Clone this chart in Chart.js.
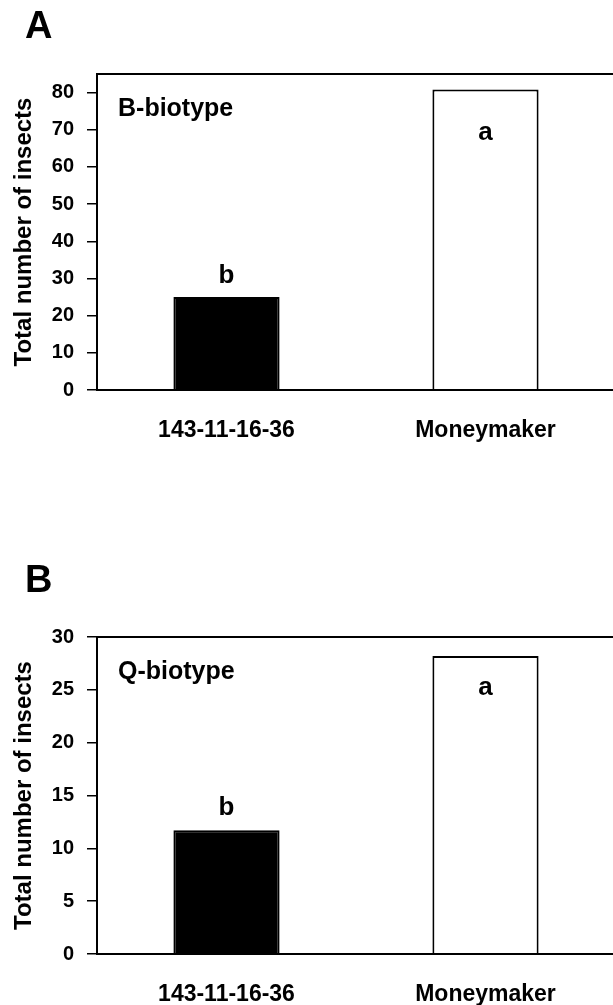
<!DOCTYPE html>
<html>
<head>
<meta charset="utf-8">
<script src="https://cdn.jsdelivr.net/npm/chart.js@4.4.1/dist/chart.umd.min.js"></script>
<style>
  html, body { margin: 0; padding: 0; background: #fff; overflow: hidden; width: 613px; height: 1005px; }
  canvas { position: absolute; left: 0; }
  #c1 { top: 0; }
  #c2 { top: 560px; }
</style>
</head>
<body>
<canvas id="c1" width="620" height="470"></canvas>
<canvas id="c2" width="620" height="460"></canvas>
<script>
// ---- data ----
const categories = ['143-11-16-36', 'Moneymaker'];
const bValues = [25, 80.8];
const qValues = [11.7, 28.2];
const sigLetters = ['b', 'a'];
const yTicksB = [0, 10, 20, 30, 40, 50, 60, 70, 80];
const yTicksQ = [0, 5, 10, 15, 20, 25, 30];
const panelLabels = ['A', 'B'];
const biotypeLabels = ['B-biotype', 'Q-biotype'];
const yTitle = 'Total number of insects';

const FONT = "'Liberation Sans', Arial, sans-serif";

const decorPlugin = {
  id: 'decor',
  afterDatasetsDraw(chart, args, opts) {
    const ctx = chart.ctx;
    const ca = chart.chartArea;
    ctx.save();
    // plot frame
    ctx.strokeStyle = '#000';
    ctx.lineWidth = 2;
    ctx.strokeRect(ca.left, ca.top, ca.right - ca.left, ca.bottom - ca.top);
    // biotype label
    ctx.fillStyle = '#000';
    ctx.font = 'bold 25px ' + FONT;
    ctx.textAlign = 'left';
    ctx.textBaseline = 'alphabetic';
    ctx.fillText(opts.biotype, ca.left + 21, ca.top + 42);
    // panel letter
    ctx.font = 'bold 38px ' + FONT;
    ctx.fillText(opts.panel, 25, opts.panelBaseline);
    // significance letters
    ctx.font = 'bold 26px ' + FONT;
    ctx.textAlign = 'center';
    const meta = chart.getDatasetMeta(0);
    meta.data.forEach((bar, i) => {
      const letter = sigLetters[i];
      if (i === 0) {
        ctx.fillText(letter, bar.x, bar.y - opts.aboveGap);
      } else {
        ctx.fillText(letter, bar.x, bar.y + opts.insideGap);
      }
    });
    ctx.restore();
  }
};

function makeChart(id, values, yMax, ticks, padTop, xHeight, decor) {
  return new Chart(document.getElementById(id), {
    type: 'bar',
    data: {
      labels: categories,
      datasets: [{
        data: values,
        backgroundColor: ['#000000', '#ffffff'],
        borderColor: '#000000',
        borderWidth: 2,
        borderSkipped: 'start',
        barPercentage: 0.41,
        categoryPercentage: 1.0
      }]
    },
    options: {
      responsive: false,
      animation: false,
      devicePixelRatio: 1,
      layout: { padding: { top: padTop, left: 0, right: 5, bottom: 0 } },
      plugins: {
        legend: { display: false },
        tooltip: { enabled: false },
        decor: decor
      },
      scales: {
        x: {
          offset: true,
          grid: { display: false, drawTicks: false },
          border: { display: false },
          ticks: {
            color: '#000',
            font: { family: FONT, size: 23, weight: 'bold' },
            padding: 27,
            maxRotation: 0
          },
          afterFit(scale) { scale.height = xHeight; }
        },
        y: {
          min: 0,
          max: yMax,
          grid: {
            display: true,
            drawOnChartArea: false,
            drawTicks: true,
            tickLength: 10,
            color: '#000',
            lineWidth: 1.5
          },
          border: { display: false },
          ticks: {
            color: '#000',
            font: { family: FONT, size: 20, weight: 'bold' },
            padding: 13
          },
          afterBuildTicks(scale) { scale.ticks = ticks.map(v => ({ value: v })); },
          title: {
            display: true,
            text: yTitle,
            color: '#000',
            font: { family: FONT, size: 24, weight: 'bold', lineHeight: 1 },
            padding: { top: 12, bottom: 0 }
          },
          afterFit(scale) { scale.width = 97; }
        }
      }
    },
    plugins: [decorPlugin]
  });
}

makeChart('c1', bValues, 85, yTicksB, 74, 80,
  { biotype: biotypeLabels[0], panel: panelLabels[0], panelBaseline: 38, aboveGap: 14, insideGap: 50 });
makeChart('c2', qValues, 30, yTicksQ, 77, 66,
  { biotype: biotypeLabels[1], panel: panelLabels[1], panelBaseline: 32, aboveGap: 15, insideGap: 39 });
</script>
</body>
</html>
